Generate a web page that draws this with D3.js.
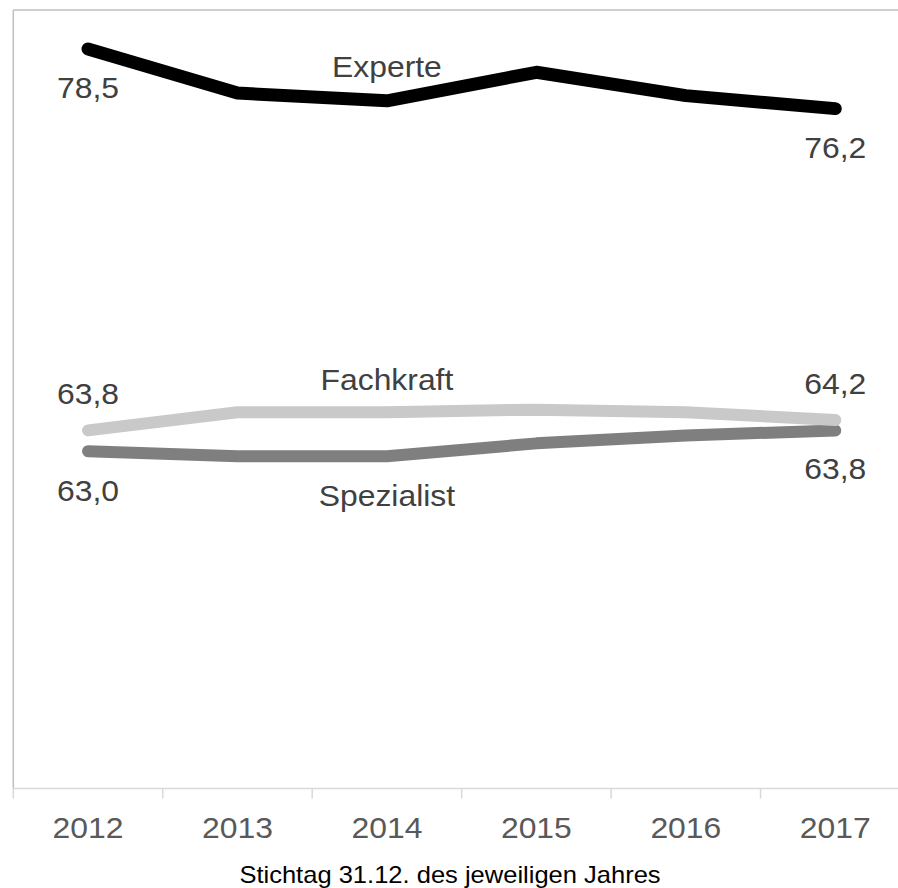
<!DOCTYPE html>
<html>
<head>
<meta charset="utf-8">
<script src="https://cdn.jsdelivr.net/npm/d3@7"></script>
<style>
  html, body { margin: 0; padding: 0; background: #fff; }
  svg { display: block; font-family: "Liberation Sans", Arial, sans-serif; }
</style>
</head>
<body>
<svg id="chart" width="898" height="888"></svg>
<script>
const years = ["2012", "2013", "2014", "2015", "2016", "2017"];
const experte = [78.5, 76.8, 76.5, 77.6, 76.7, 76.2];
const fachkraft = [63.8, 64.5, 64.5, 64.6, 64.5, 64.2];
const spezialist = [63.0, 62.8, 62.8, 63.3, 63.6, 63.8];
const seriesNames = ["Experte", "Fachkraft", "Spezialist"];
const yDomain = [50, 80];
const axisTitle = "Stichtag 31.12. des jeweiligen Jahres";

(function () {
const fmt = v => d3.format(".1f")(v).replace(".", ",");

const svg = d3.select("#chart");
const mLeft = 13.3, mRight = 910, mTop = 10, mBottom = 788.5;
const SX = 1.08;

const x = d3.scaleBand().domain(years).range([mLeft, mRight]).padding(0);
const y = d3.scaleLinear().domain(yDomain).range([mBottom, mTop]);
const cx = d => x(d) + x.bandwidth() / 2;

function stretchedText(sel, px, py, sx) {
  return sel.attr("transform", `translate(${px},${py}) scale(${sx},1)`)
    .attr("text-anchor", "middle");
}

// plot frame: top and left border
svg.append("line").attr("x1", mLeft).attr("x2", 898).attr("y1", mTop).attr("y2", mTop)
  .attr("stroke", "#bfbfbf").attr("stroke-width", 1.5);
svg.append("line").attr("x1", mLeft).attr("x2", mLeft).attr("y1", mTop).attr("y2", mBottom)
  .attr("stroke", "#bfbfbf").attr("stroke-width", 1.5);

// x axis
const xAxis = svg.append("g").attr("transform", `translate(0,${mBottom})`);
xAxis.append("line").attr("x1", mLeft).attr("x2", 898).attr("y1", 0).attr("y2", 0)
  .attr("stroke", "#d9d9d9").attr("stroke-width", 1.5);
xAxis.selectAll("line.tick").data(years).enter().append("line").attr("class", "tick")
  .attr("x1", d => x(d)).attr("x2", d => x(d)).attr("y1", 0).attr("y2", 10)
  .attr("stroke", "#d9d9d9").attr("stroke-width", 1.5);
xAxis.selectAll("text").data(years).enter().append("text")
  .each(function (d) { stretchedText(d3.select(this), cx(d), 49.5, SX); })
  .attr("font-size", 29.5).attr("fill", "#595959")
  .text(d => d);

stretchedText(svg.append("text"), 450, 883, 1.11)
  .attr("font-size", 23).attr("fill", "#000").text(axisTitle);

// lines
const line = d3.line().x((d, i) => cx(years[i])).y(d => y(d));
const specs = [
  { name: seriesNames[2], data: spezialist, color: "#7f7f7f", w: 12 },
  { name: seriesNames[1], data: fachkraft, color: "#c9c9c9", w: 12 },
  { name: seriesNames[0], data: experte, color: "#000000", w: 13 }
];
specs.forEach(s => {
  svg.append("path").datum(s.data).attr("d", line)
    .attr("fill", "none").attr("stroke", s.color).attr("stroke-width", s.w)
    .attr("stroke-linecap", "round").attr("stroke-linejoin", "round");
});

// value labels
const labelColor = "#404040";
const vl = [
  { v: experte[0], yr: years[0], dy: 49 },
  { v: experte[5], yr: years[5], dy: 49 },
  { v: fachkraft[0], yr: years[0], dy: -26 },
  { v: fachkraft[5], yr: years[5], dy: -26 },
  { v: spezialist[0], yr: years[0], dy: 50 },
  { v: spezialist[5], yr: years[5], dy: 49 }
];
svg.selectAll("text.val").data(vl).enter().append("text").attr("class", "val")
  .each(function (d) { stretchedText(d3.select(this), cx(d.yr), y(d.v) + d.dy, SX); })
  .attr("font-size", 29.5).attr("fill", labelColor)
  .text(d => fmt(d.v));

// series name labels
const nl = [
  { name: seriesNames[0], v: experte[2], dy: -24 },
  { name: seriesNames[1], v: fachkraft[2], dy: -22 },
  { name: seriesNames[2], v: spezialist[2], dy: 50 }
];
svg.selectAll("text.name").data(nl).enter().append("text").attr("class", "name")
  .each(function (d) { stretchedText(d3.select(this), cx(years[2]), y(d.v) + d.dy, SX); })
  .attr("font-size", 29.5).attr("fill", labelColor)
  .text(d => d.name);
})();
</script>
</body>
</html>
